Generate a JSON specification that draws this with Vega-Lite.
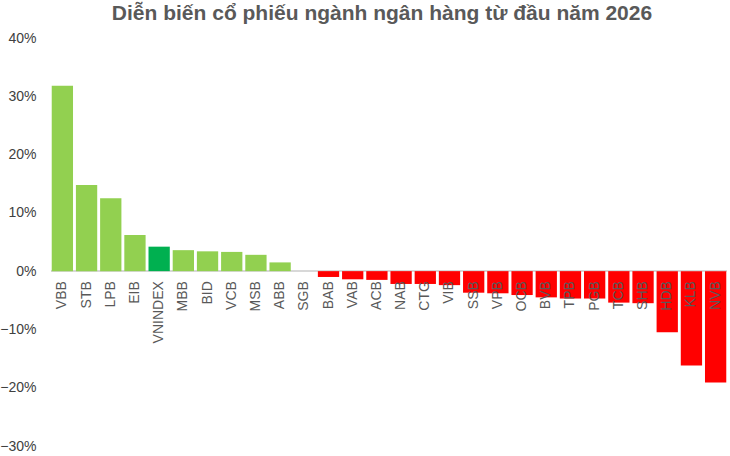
{
  "$schema": "https://vega.github.io/schema/vega-lite/v6.json",
  "width": 676,
  "height": 408,
  "autosize": {"type": "none"},
  "padding": {"left": 51, "top": 38, "right": 3, "bottom": 10},
  "background": "white",
  "view": {"stroke": null},
  "title": {
    "text": "Diễn biến cổ phiếu ngành ngân hàng từ đầu năm 2026",
    "font": "Liberation Sans",
    "fontSize": 21,
    "fontWeight": "bold",
    "color": "#595959",
    "anchor": "middle",
    "dx": -7,
    "offset": 7
  },
  "data": {
    "values": [
      {"Ma": "VBB", "Thay doi": 0.318, "Nhom": "tang"},
      {"Ma": "STB", "Thay doi": 0.148, "Nhom": "tang"},
      {"Ma": "LPB", "Thay doi": 0.125, "Nhom": "tang"},
      {"Ma": "EIB", "Thay doi": 0.062, "Nhom": "tang"},
      {"Ma": "VNINDEX", "Thay doi": 0.042, "Nhom": "chi so"},
      {"Ma": "MBB", "Thay doi": 0.036, "Nhom": "tang"},
      {"Ma": "BID", "Thay doi": 0.034, "Nhom": "tang"},
      {"Ma": "VCB", "Thay doi": 0.033, "Nhom": "tang"},
      {"Ma": "MSB", "Thay doi": 0.028, "Nhom": "tang"},
      {"Ma": "ABB", "Thay doi": 0.015, "Nhom": "tang"},
      {"Ma": "SGB", "Thay doi": 0.0, "Nhom": "tang"},
      {"Ma": "BAB", "Thay doi": -0.010, "Nhom": "giam"},
      {"Ma": "VAB", "Thay doi": -0.014, "Nhom": "giam"},
      {"Ma": "ACB", "Thay doi": -0.015, "Nhom": "giam"},
      {"Ma": "NAB", "Thay doi": -0.022, "Nhom": "giam"},
      {"Ma": "CTG", "Thay doi": -0.022, "Nhom": "giam"},
      {"Ma": "VIB", "Thay doi": -0.024, "Nhom": "giam"},
      {"Ma": "SSB", "Thay doi": -0.037, "Nhom": "giam"},
      {"Ma": "VPB", "Thay doi": -0.038, "Nhom": "giam"},
      {"Ma": "OCB", "Thay doi": -0.041, "Nhom": "giam"},
      {"Ma": "BVB", "Thay doi": -0.045, "Nhom": "giam"},
      {"Ma": "TPB", "Thay doi": -0.047, "Nhom": "giam"},
      {"Ma": "PGB", "Thay doi": -0.047, "Nhom": "giam"},
      {"Ma": "TCB", "Thay doi": -0.054, "Nhom": "giam"},
      {"Ma": "SHB", "Thay doi": -0.055, "Nhom": "giam"},
      {"Ma": "HDB", "Thay doi": -0.105, "Nhom": "giam"},
      {"Ma": "KLB", "Thay doi": -0.162, "Nhom": "giam"},
      {"Ma": "NVB", "Thay doi": -0.191, "Nhom": "giam"}
    ]
  },
  "encoding": {
    "x": {
      "field": "Ma",
      "type": "nominal",
      "sort": null,
      "scale": {"paddingInner": 0.12, "paddingOuter": 0.03},
      "axis": null
    }
  },
  "layer": [
    {
      "mark": {"type": "rule", "color": "#d9d9d9", "strokeWidth": 1},
      "encoding": {"y": {"datum": 0}, "x": null}
    },
    {
      "mark": {"type": "bar"},
      "encoding": {
        "y": {
          "field": "Thay doi",
          "type": "quantitative",
          "scale": {"domain": [-0.3, 0.4], "nice": false},
          "axis": {
            "format": ".0%",
            "values": [-0.3, -0.2, -0.1, 0, 0.1, 0.2, 0.3, 0.4],
            "title": null,
            "domain": false,
            "ticks": false,
            "grid": false,
            "labelPadding": 15,
            "labelFont": "Liberation Sans",
            "labelFontSize": 14,
            "labelColor": "#404040"
          }
        },
        "color": {
          "field": "Nhom",
          "type": "nominal",
          "scale": {
            "domain": ["tang", "chi so", "giam"],
            "range": ["#92d050", "#00b050", "#ff0000"]
          },
          "legend": null
        }
      }
    },
    {
      "mark": {
        "type": "text",
        "angle": 270,
        "align": "right",
        "baseline": "middle",
        "dx": -10,
        "font": "Liberation Sans",
        "fontSize": 14,
        "color": "#595959"
      },
      "encoding": {
        "y": {"datum": 0},
        "text": {"field": "Ma"}
      }
    }
  ]
}
